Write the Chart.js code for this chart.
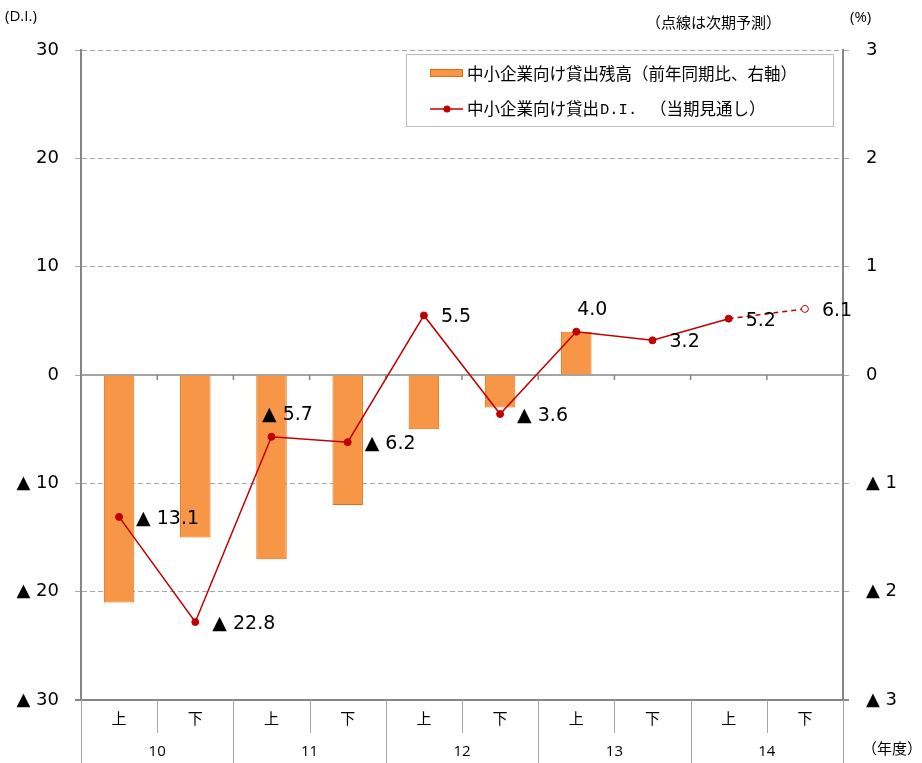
<!DOCTYPE html>
<html>
<head>
<meta charset="utf-8">
<script src="https://cdn.jsdelivr.net/npm/chart.js@4.4.1/dist/chart.umd.min.js"></script>
<style>
  html, body { margin: 0; padding: 0; background: #fff; }
</style>
</head>
<body>
<canvas id="loanChart" width="922" height="763"></canvas>
<script>
// half-year categories and fiscal years
const halves = ["上", "下", "上", "下", "上", "下", "上", "下", "上", "下"];
const years = ["10", "11", "12", "13", "14"];

// lending balance to SMEs, % yoy (right axis)
const loanBalance = [-2.1, -1.5, -1.7, -1.2, -0.5, -0.3, 0.4, null, null, null];
// lending D.I. to SMEs (left axis), last point is forecast
const loanDI = [-13.1, -22.8, -5.7, -6.2, 5.5, -3.6, 4.0, 3.2, 5.2, 6.1];
// where the value label sits next to each point
const labelSide = ["right", "right", "above", "right", "right", "right", "above", "right", "right", "right"];

const leftTicks = [-30, -20, -10, 0, 10, 20, 30];
const rightTicks = [-3, -2, -1, 0, 1, 2, 3];

function fmt(v) {
  return v < 0 ? "▲ " + Math.abs(v) : String(v);
}
function fmt1(v) {
  return v < 0 ? "▲ " + Math.abs(v).toFixed(1) : v.toFixed(1);
}

const GRID = "#a6a6a6";
const AXIS = "#868686";
const CJK = '"Noto Sans CJK JP", "Noto Sans", sans-serif';
const TICKFONT = '"DejaVu Sans", sans-serif';

const extrasPlugin = {
  id: "extras",
  beforeDatasetsDraw(chart) {
    const ctx = chart.ctx;
    const area = chart.chartArea;
    const y0 = chart.scales.y.getPixelForValue(0);
    const x = chart.scales.x;
    ctx.save();
    ctx.strokeStyle = AXIS;
    ctx.lineWidth = 1.5;
    ctx.beginPath();
    ctx.moveTo(area.left, y0);
    ctx.lineTo(area.right, y0);
    // small tick marks at category boundaries
    for (let i = 1; i < halves.length; i++) {
      let bx = (x.getPixelForValue(i - 1) + x.getPixelForValue(i)) / 2;
      ctx.moveTo(bx, y0);
      ctx.lineTo(bx, y0 + 5);
    }
    ctx.stroke();
    ctx.restore();
  },
  afterDatasetsDraw(chart) {
    const ctx = chart.ctx;
    const meta = chart.getDatasetMeta(0);
    ctx.save();
    ctx.fillStyle = "#000";
    ctx.font = '19px "DejaVu Sans", sans-serif';
    ctx.textBaseline = "middle";
    meta.data.forEach(function (pt, i) {
      let text = fmt1(loanDI[i]);
      if (labelSide[i] === "above") {
        ctx.textAlign = "center";
        ctx.fillText(text, pt.x + 16, pt.y - 22);
      } else {
        ctx.textAlign = "left";
        ctx.fillText(text, pt.x + 17, pt.y + 2);
      }
    });
    ctx.restore();
  },
  afterDraw(chart) {
    const ctx = chart.ctx;
    const area = chart.chartArea;
    const x = chart.scales.x;
    const H = chart.height;
    ctx.save();

    // bottom axis line and category box
    ctx.strokeStyle = AXIS;
    ctx.lineWidth = 2;
    ctx.beginPath();
    ctx.moveTo(area.left - 6, area.bottom);
    ctx.lineTo(area.right + 6, area.bottom);
    ctx.stroke();

    ctx.strokeStyle = GRID;
    ctx.lineWidth = 1;
    ctx.beginPath();
    for (let i = 0; i <= halves.length; i++) {
      let bx;
      if (i === 0) bx = area.left;
      else if (i === halves.length) bx = area.right;
      else bx = (x.getPixelForValue(i - 1) + x.getPixelForValue(i)) / 2;
      bx = Math.round(bx) + 0.5;
      ctx.moveTo(bx, area.bottom);
      ctx.lineTo(bx, i % 2 === 0 ? H : area.bottom + 33);
    }
    ctx.stroke();

    ctx.fillStyle = "#000";
    ctx.textAlign = "center";
    ctx.textBaseline = "middle";
    ctx.font = "15px " + CJK;
    halves.forEach(function (h, i) {
      ctx.fillText(h, x.getPixelForValue(i), area.bottom + 18);
    });
    ctx.font = '15px "Open Sans", sans-serif';
    years.forEach(function (yr, j) {
      let cx = (x.getPixelForValue(j * 2) + x.getPixelForValue(j * 2 + 1)) / 2;
      ctx.fillText(yr, cx, area.bottom + 52);
    });

    // axis titles
    ctx.font = '15px "Open Sans", sans-serif';
    ctx.textAlign = "left";
    ctx.fillText("(D.I.)", 5, 17);
    ctx.fillText("(%)", 850, 18);
    ctx.font = "15px " + CJK;
    ctx.fillText("（点線は次期予測）", 646, 22);
    ctx.fillText("（年度）", 862, 748);

    // legend box
    ctx.fillStyle = "#fff";
    ctx.fillRect(406, 54, 427, 72);
    ctx.strokeStyle = "#bfbfbf";
    ctx.lineWidth = 1;
    ctx.strokeRect(406.5, 54.5, 427, 72);

    ctx.fillStyle = "#F79646";
    ctx.strokeStyle = "#E46C0A";
    ctx.fillRect(430.5, 69.5, 32, 7);
    ctx.strokeRect(430.5, 69.5, 32, 7);

    ctx.strokeStyle = "#C00000";
    ctx.lineWidth = 1.5;
    ctx.beginPath();
    ctx.moveTo(430, 109);
    ctx.lineTo(463, 109);
    ctx.stroke();
    ctx.fillStyle = "#C00000";
    ctx.beginPath();
    ctx.arc(447, 109, 3.5, 0, Math.PI * 2);
    ctx.fill();

    ctx.fillStyle = "#000";
    ctx.font = "16.5px " + CJK;
    ctx.textAlign = "left";
    ctx.fillText("中小企業向け貸出残高（前年同期比、右軸）", 467, 74);
    ctx.fillText("中小企業向け貸出", 467, 109);
    ctx.fillText("（当期見通し）", 650, 109);
    ctx.font = '15.5px "Liberation Mono", monospace';
    ctx.fillText("D.I.", 600, 110);

    ctx.restore();
  }
};

const ctx = document.getElementById("loanChart").getContext("2d");
const chart = new Chart(ctx, {
  type: "bar",
  data: {
    labels: halves,
    datasets: [
      {
        type: "line",
        label: "中小企業向け貸出D.I.（当期見通し）",
        data: loanDI,
        yAxisID: "y",
        borderColor: "#C00000",
        borderWidth: 1.5,
        pointRadius: 3.5,
        pointBorderWidth: 1,
        pointBorderColor: "#C00000",
        pointBackgroundColor: loanDI.map(function (v, i) {
          return i === loanDI.length - 1 ? "#ffffff" : "#C00000";
        }),
        segment: {
          borderDash: function (c) {
            return c.p1DataIndex === loanDI.length - 1 ? [5, 4] : undefined;
          }
        },
        tension: 0,
        order: 1
      },
      {
        type: "bar",
        label: "中小企業向け貸出残高（前年同期比、右軸）",
        data: loanBalance,
        yAxisID: "y1",
        backgroundColor: "#F79646",
        borderColor: "#E46C0A",
        borderWidth: 1,
        barPercentage: 0.4,
        categoryPercentage: 1.0,
        order: 2
      }
    ]
  },
  options: {
    responsive: false,
    animation: false,
    layout: { padding: { top: 50, left: 0, right: 0, bottom: 0 } },
    plugins: {
      legend: { display: false },
      tooltip: { enabled: false }
    },
    scales: {
      x: {
        type: "category",
        offset: true,
        grid: { display: false },
        border: { display: false },
        ticks: { display: false },
        afterFit: function (s) { s.height = 63; }
      },
      y: {
        position: "left",
        min: leftTicks[0],
        max: leftTicks[leftTicks.length - 1],
        afterBuildTicks: function (s) {
          s.ticks = leftTicks.map(function (v) { return { value: v }; });
        },
        ticks: {
          callback: fmt,
          color: "#000",
          font: { family: TICKFONT, size: 18 },
          padding: 16
        },
        grid: {
          color: function (c) {
            let v = c.tick ? c.tick.value : null;
            return v === 0 || v === -30 ? "rgba(0,0,0,0)" : GRID;
          },
          tickColor: GRID,
          tickLength: 6,
          lineWidth: 1
        },
        border: { color: AXIS, width: 2, dash: [5, 3] },
        afterFit: function (s) { s.width = 81; }
      },
      y1: {
        position: "right",
        min: rightTicks[0],
        max: rightTicks[rightTicks.length - 1],
        afterBuildTicks: function (s) {
          s.ticks = rightTicks.map(function (v) { return { value: v }; });
        },
        ticks: {
          callback: fmt,
          color: "#000",
          font: { family: TICKFONT, size: 18 },
          padding: 17
        },
        grid: {
          drawOnChartArea: false,
          color: GRID,
          tickLength: 6
        },
        border: { color: AXIS, width: 2 },
        afterFit: function (s) { s.width = 79; }
      }
    }
  },
  plugins: [extrasPlugin]
});
</script>
</body>
</html>
